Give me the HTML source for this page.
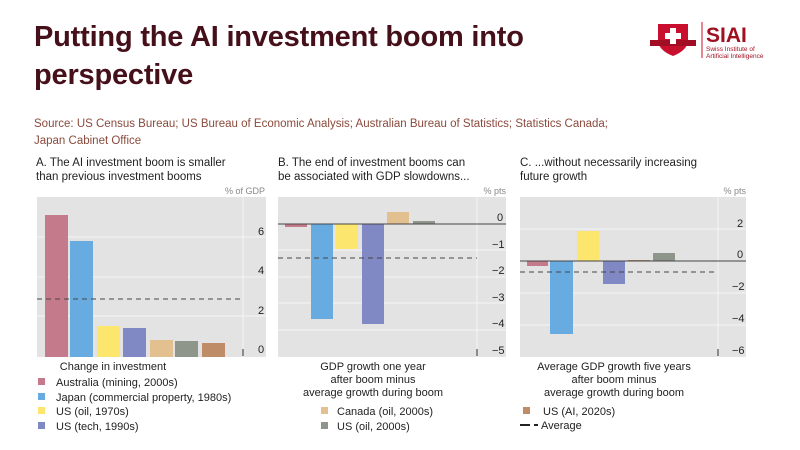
<!DOCTYPE html>
<html><head><style>
body{margin:0;width:800px;height:450px;background:#fff;font-family:"Liberation Sans",sans-serif;position:relative;overflow:hidden}
.t{position:absolute;left:34px;top:18px;font-size:29px;font-weight:bold;color:#45101a;line-height:38px;letter-spacing:-0.2px}
.s{position:absolute;left:34px;top:116px;font-size:11.5px;color:#8a4a3c;line-height:17px;white-space:nowrap}
</style></head><body>
<div class="t">Putting the AI investment boom into<br>perspective</div>
<div class="s">Source: US Census Bureau; US Bureau of Economic Analysis; Australian Bureau of Statistics; Statistics Canada;<br>Japan Cabinet Office</div>
<svg width="800" height="450" style="position:absolute;left:0;top:0" font-family="Liberation Sans, sans-serif">
<g>
<path d="M658 24 h30 v16 q0 10 -15 16 q-15 -6 -15 -16z" fill="#c8102e"/>
<rect x="650" y="40" width="46" height="6" fill="#a00d24"/>
<rect x="670" y="28" width="6" height="16" fill="#fff"/><rect x="665" y="33" width="16" height="6" fill="#fff"/>
<line x1="702" y1="22" x2="702" y2="58" stroke="#c8102e" stroke-width="1"/>
<text x="706" y="42" font-size="21" font-weight="bold" fill="#a01020">SIAI</text>
<text x="706" y="51" font-size="6.5" fill="#a01020">Swiss Institute of</text>
<text x="706" y="58" font-size="6.5" fill="#a01020">Artificial Intelligence</text>
</g>
<g font-size="11.5" fill="#222">
<text x="36" y="166">A. The AI investment boom is smaller</text>
<text x="36" y="180">than previous investment booms</text>
<text x="278" y="166">B. The end of investment booms can</text>
<text x="278" y="180">be associated with GDP slowdowns...</text>
<text x="520" y="166">C. ...without necessarily increasing</text>
<text x="520" y="180">future growth</text>
</g>
<g font-size="9" fill="#888"><text x="265" y="194" text-anchor="end">% of GDP</text>
<text x="506" y="194" text-anchor="end">% pts</text><text x="746" y="194" text-anchor="end">% pts</text></g>
<rect x="37" y="197" width="229" height="160" fill="#e3e3e3"/>
<g stroke="#f5f5f5" stroke-width="1"><line x1="37" x2="266" y1="237" y2="237"/><line x1="37" x2="266" y1="277" y2="277"/><line x1="37" x2="266" y1="316" y2="316"/><line x1="243" x2="243" y1="197" y2="357"/></g>
<rect x="45" y="215" width="23" height="142" fill="#c47a8a"/>
<rect x="70" y="241" width="23" height="116" fill="#68abe0"/>
<rect x="97" y="326" width="23" height="31" fill="#fde66e"/>
<rect x="123" y="328" width="23" height="29" fill="#8089c3"/>
<rect x="150" y="340" width="23" height="17" fill="#e3c08f"/>
<rect x="175" y="341" width="23" height="16" fill="#8e958b"/>
<rect x="202" y="343" width="23" height="14" fill="#bf8c68"/>
<line x1="37" x2="243" y1="299" y2="299" stroke="#444" stroke-dasharray="5,4"/>
<line x1="243" x2="243" y1="349" y2="356" stroke="#333"/>
<g font-size="11" fill="#222"><text x="258" y="235">6</text><text x="258" y="274">4</text><text x="258" y="314">2</text><text x="258" y="353">0</text></g>
<rect x="278" y="197" width="228" height="160" fill="#e3e3e3"/>
<g stroke="#f5f5f5"><line x1="278" x2="506" y1="250" y2="250"/><line x1="278" x2="506" y1="277" y2="277"/><line x1="278" x2="506" y1="303" y2="303"/><line x1="278" x2="506" y1="330" y2="330"/><line x1="477" x2="477" y1="197" y2="357"/></g>
<rect x="285" y="224" width="22" height="3" fill="#c47a8a"/>
<rect x="311" y="224" width="22" height="95" fill="#68abe0"/>
<rect x="336" y="224" width="22" height="25" fill="#fde66e"/>
<rect x="362" y="224" width="22" height="100" fill="#8089c3"/>
<rect x="387" y="212" width="22" height="12" fill="#e3c08f"/>
<rect x="413" y="221" width="22" height="3" fill="#8e958b"/>
<line x1="278" x2="506" y1="224" y2="224" stroke="#444"/>
<line x1="278" x2="477" y1="258" y2="258" stroke="#444" stroke-dasharray="5,4"/>
<line x1="477" x2="477" y1="349" y2="356" stroke="#333"/>
<g font-size="11" fill="#222"><text x="497" y="221">0</text><text x="492" y="248">−1</text><text x="492" y="274">−2</text><text x="492" y="301">−3</text><text x="492" y="327">−4</text><text x="492" y="354">−5</text></g>
<rect x="520" y="197" width="226" height="160" fill="#e3e3e3"/>
<g stroke="#f5f5f5"><line x1="520" x2="746" y1="229" y2="229"/><line x1="520" x2="746" y1="293" y2="293"/><line x1="520" x2="746" y1="325" y2="325"/><line x1="718" x2="718" y1="197" y2="357"/></g>
<rect x="527" y="261" width="21" height="5" fill="#c47a8a"/>
<rect x="550" y="261" width="23" height="73" fill="#68abe0"/>
<rect x="577" y="231" width="22" height="30" fill="#fde66e"/>
<rect x="603" y="261" width="22" height="23" fill="#8089c3"/>
<rect x="628" y="260" width="22" height="1" fill="#bf8c68"/>
<rect x="653" y="253" width="22" height="8" fill="#8e958b"/>
<line x1="520" x2="746" y1="261" y2="261" stroke="#444"/>
<line x1="520" x2="718" y1="272" y2="272" stroke="#444" stroke-dasharray="5,4"/>
<line x1="718" x2="718" y1="349" y2="356" stroke="#333"/>
<g font-size="11" fill="#222"><text x="737" y="227">2</text><text x="737" y="258">0</text><text x="732" y="290">−2</text><text x="732" y="322">−4</text><text x="732" y="354">−6</text></g>
<g font-size="11" fill="#222" text-anchor="middle">
<text x="113" y="370">Change in investment</text>
<text x="373" y="370">GDP growth one year</text><text x="373" y="383">after boom minus</text><text x="373" y="396">average growth during boom</text>
<text x="614" y="370">Average GDP growth five years</text><text x="614" y="383">after boom minus</text><text x="614" y="396">average growth during boom</text>
</g>
<g font-size="11" fill="#222">
<rect x="38" y="378" width="7" height="7" fill="#c47a8a"/><text x="56" y="386">Australia (mining, 2000s)</text>
<rect x="38" y="393" width="7" height="7" fill="#68abe0"/><text x="56" y="401">Japan (commercial property, 1980s)</text>
<rect x="38" y="407" width="7" height="7" fill="#fde66e"/><text x="56" y="415">US (oil, 1970s)</text>
<rect x="38" y="422" width="7" height="7" fill="#8089c3"/><text x="56" y="430">US (tech, 1990s)</text>
<rect x="321" y="407" width="7" height="7" fill="#e3c08f"/><text x="337" y="415">Canada (oil, 2000s)</text>
<rect x="321" y="422" width="7" height="7" fill="#8e958b"/><text x="337" y="430">US (oil, 2000s)</text>
<rect x="523" y="407" width="7" height="7" fill="#bf8c68"/><text x="543" y="415">US (AI, 2020s)</text>
<line x1="520" x2="530" y1="425" y2="425" stroke="#222" stroke-width="2"/><line x1="534" x2="538" y1="425" y2="425" stroke="#222" stroke-width="2"/><text x="541" y="429">Average</text>
</g>
</svg>
</body></html>
